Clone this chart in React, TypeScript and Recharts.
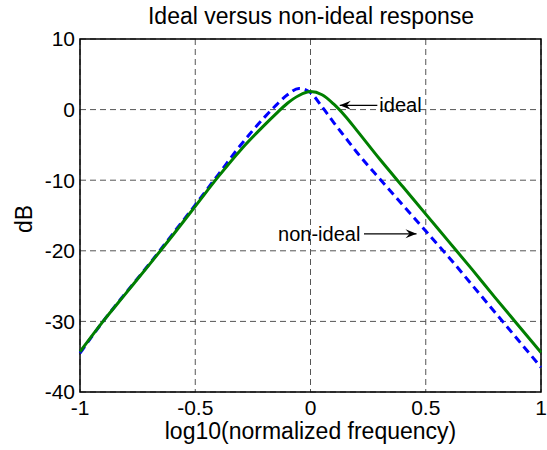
import React from "react";
import {
  LineChart,
  Line,
  XAxis,
  YAxis,
  CartesianGrid,
  ReferenceArea,
  ReferenceLine,
  ReferenceDot,
  Label,
} from "recharts";

const FREQ = [
  -1, -0.9, -0.8, -0.7, -0.6, -0.5, -0.4, -0.3, -0.2, -0.15, -0.1, -0.05, 0,
  0.05, 0.1, 0.15, 0.2, 0.3, 0.4, 0.5, 0.6, 0.7, 0.8, 0.9, 1,
];
const IDEAL = [
  -34.3, -30.0, -26.0, -22.0, -17.9, -13.7, -9.5, -5.6, -2.2, -0.6, 0.9, 2.0, 2.55,
  2.1, 0.8, -0.9, -2.9, -7.0, -10.9, -14.8, -18.7, -22.6, -26.6, -30.5, -34.4,
];
const NON_IDEAL = [
  -34.5, -30.0, -25.9, -21.9, -17.7, -13.5, -9.2, -4.9, -1.1, 0.6, 2.1, 3.0, 2.4,
  0.4, -1.8, -3.9, -6.0, -9.8, -13.5, -17.2, -20.9, -24.8, -28.7, -32.6, -36.5,
];
const X_TICKS = [-1, -0.5, 0, 0.5, 1];
const Y_TICKS = [10, 0, -10, -20, -30, -40];

const FONT = '"Liberation Sans", Arial, Helvetica, sans-serif';

const data = FREQ.map((f, i) => ({ f, ideal: IDEAL[i], nonIdeal: NON_IDEAL[i] }));

// line with a filled arrow head at (x2, y2)
function Arrow(props: any) {
  const { x1, y1, x2, y2 } = props;
  const dir = x2 > x1 ? 1 : -1;
  const L = 11;
  const W = 4.5;
  return (
    <g>
      <line x1={x1} y1={y1} x2={x2} y2={y2} stroke="#000" strokeWidth={1.2} />
      <path
        d={`M${x2},${y2} L${x2 - dir * L},${y2 - W} L${x2 - dir * 7},${y2} L${x2 - dir * L},${y2 + W} Z`}
        fill="#000"
      />
    </g>
  );
}

export default function App() {
  return (
    <div style={{ position: "absolute", left: 0, top: 0, width: 547, height: 450, background: "#fff", fontFamily: FONT }}>
      <div
        style={{
          position: "absolute",
          left: 0,
          width: 622,
          top: 5,
          textAlign: "center",
          fontSize: 23,
          lineHeight: "23px",
          color: "#000",
        }}
      >
        Ideal versus non-ideal response
      </div>
      <LineChart
        width={547}
        height={450}
        data={data}
        margin={{ top: 39, right: 6, bottom: 0, left: 0 }}
        style={{ fontFamily: FONT }}
      >
        <CartesianGrid stroke="#555" strokeDasharray="6 4" strokeWidth={1} />
        <XAxis
          dataKey="f"
          type="number"
          domain={[-1, 1]}
          ticks={X_TICKS}
          height={58}
          axisLine={false}
          tickLine={false}
          tickSize={6}
          tickMargin={2}
          tick={{ fill: "#000", fontSize: 21 }}
          tickFormatter={(v) => String(v)}
        >
          <Label
            content={(p: any) => {
              const vb = p.viewBox;
              return (
                <text x={vb.x + vb.width / 2} y={439} textAnchor="middle" fontSize={23} fill="#000">
                  log10(normalized frequency)
                </text>
              );
            }}
          />
        </XAxis>
        <YAxis
          type="number"
          domain={[-40, 10]}
          ticks={Y_TICKS}
          width={80}
          axisLine={false}
          tickLine={false}
          tickSize={3}
          tickMargin={2}
          tick={{ fill: "#000", fontSize: 21 }}
        >
          <Label
            content={() => (
              <text x={32} y={219} textAnchor="middle" fontSize={23} fill="#000" transform="rotate(-90 32 219)">
                dB
              </text>
            )}
          />
        </YAxis>
        <ReferenceArea x1={-1} x2={1} y1={-40} y2={10} fill="none" stroke="#000" strokeWidth={1.5} />
        <Line
          type="monotone"
          dataKey="nonIdeal"
          stroke="#0000ff"
          strokeWidth={3}
          strokeDasharray="8 5"
          dot={false}
          isAnimationActive={false}
        />
        <Line
          type="monotone"
          dataKey="ideal"
          stroke="#007f00"
          strokeWidth={3}
          dot={false}
          isAnimationActive={false}
        />
        <ReferenceLine
          segment={[
            { x: 0.29, y: 0.6 },
            { x: 0.127, y: 0.6 },
          ]}
          shape={(p: any) => <Arrow {...p} />}
        />
        <ReferenceLine
          segment={[
            { x: 0.232, y: -17.6 },
            { x: 0.46, y: -17.6 },
          ]}
          shape={(p: any) => <Arrow {...p} />}
        />
        <ReferenceDot
          x={0.29}
          y={0.6}
          r={0}
          fill="none"
          stroke="none"
          label={{ value: "ideal", position: "right", offset: 2, fontSize: 20, fill: "#000" }}
        />
        <ReferenceDot
          x={0.225}
          y={-17.6}
          r={0}
          fill="none"
          stroke="none"
          label={{ value: "non-ideal", position: "left", offset: 2, fontSize: 20, fill: "#000" }}
        />
      </LineChart>
    </div>
  );
}
